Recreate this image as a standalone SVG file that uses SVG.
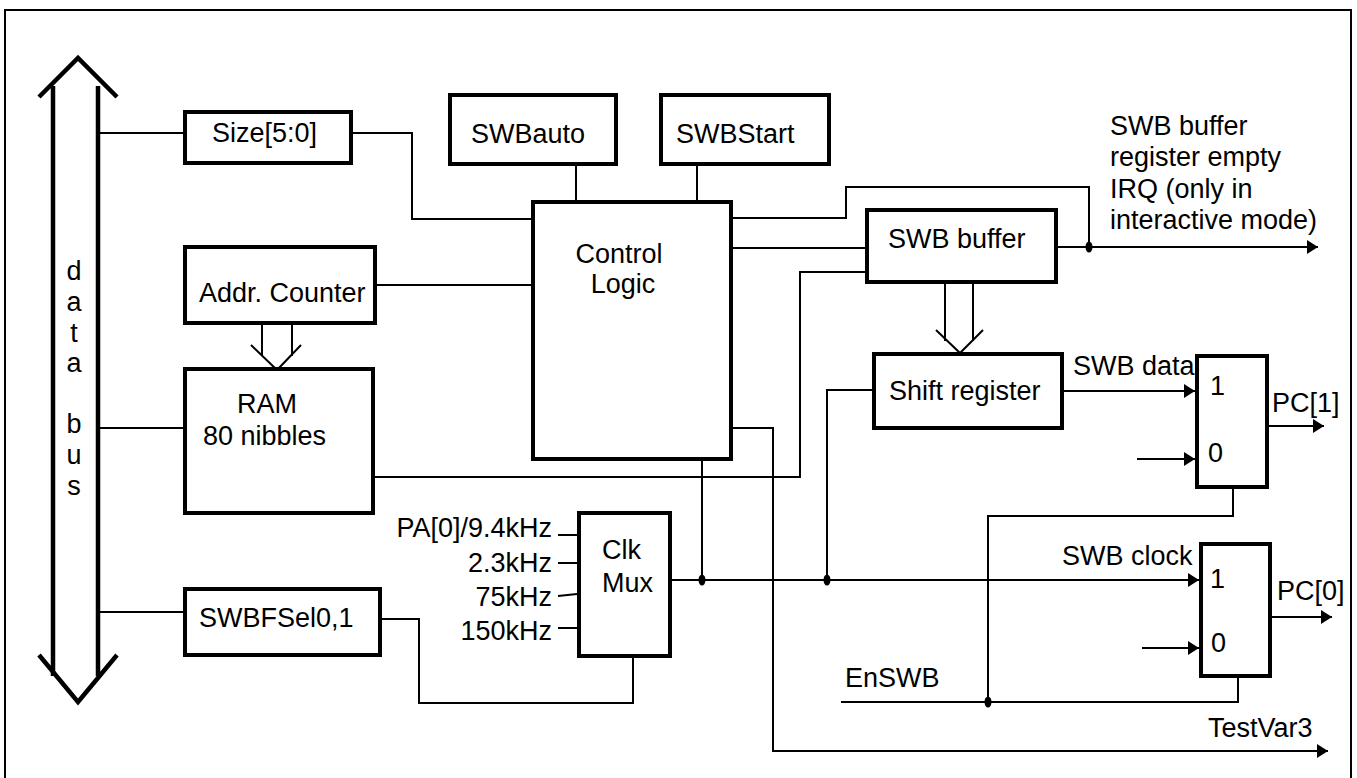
<svg xmlns="http://www.w3.org/2000/svg" width="1357" height="778" viewBox="0 0 1357 778">
<style>
.box{fill:#fff;stroke:#000;stroke-width:4}
.w{fill:none;stroke:#000;stroke-width:2}
.bus{fill:none;stroke:#000;stroke-width:4.5}
text{font-family:"Liberation Sans",Arial,sans-serif;font-size:27px;fill:#000}
.m{text-anchor:middle}
.e{text-anchor:end}
</style>
<defs>
<marker id="arr" viewBox="0 0 11 14" refX="11" refY="7" markerWidth="11" markerHeight="14" markerUnits="userSpaceOnUse" orient="auto">
<path d="M0,0 L11,7 L0,14 z" fill="#000"/>
</marker>
</defs>
<rect width="1357" height="778" fill="#fff"/>
<rect x="5" y="10" width="1346" height="790" fill="none" stroke="#000" stroke-width="2"/>

<g id="databus">
<path class="bus" d="M53 86 V676 M98 86 V676"/>
<path class="bus" d="M39 97 L78 58 L117 97"/>
<path class="bus" d="M39 655 L78 702 L117 655"/>
<text class="m" x="74" y="280">d</text>
<text class="m" x="74" y="311">a</text>
<text class="m" x="74" y="342">t</text>
<text class="m" x="74" y="372">a</text>
<text class="m" x="74" y="433">b</text>
<text class="m" x="74" y="464">u</text>
<text class="m" x="74" y="495">s</text>
</g>

<g id="connectors">
<path class="w" d="M98 133 H183"/>
<path class="w" d="M353 133 H412 V219 H531"/>
<path class="w" d="M377 285 H531"/>
<path class="w" d="M98 428 H183"/>
<path class="w" d="M375 477 H800 V272 H865"/>
<path class="w" d="M98 612 H183"/>
<path class="w" d="M382 619 H419 V703 H633 V658"/>
<path class="w" d="M576 166 V200"/>
<path class="w" d="M697 166 V200"/>
<path class="w" d="M733 218 H846 V187 H1089 V247"/>
<path class="w" d="M733 248 H865"/>
<path class="w" d="M1058 247 H1318" marker-end="url(#arr)"/>
<path class="w" d="M558 535 H577 M558 563 H577 M558 596 L577 594 M558 628 H577"/>
<path class="w" d="M672 580 H1199" marker-end="url(#arr)"/>
<path class="w" d="M702 461 V580"/>
<path class="w" d="M827 580 V390 H872"/>
<path class="w" d="M1064 391 H1195" marker-end="url(#arr)"/>
<path class="w" d="M1137 459 H1195" marker-end="url(#arr)"/>
<path class="w" d="M1269 426 H1324" marker-end="url(#arr)"/>
<path class="w" d="M1233 489 V516 H988 V702"/>
<path class="w" d="M841 702 H1238 V678"/>
<path class="w" d="M1142 648 H1199" marker-end="url(#arr)"/>
<path class="w" d="M1272 617 H1332" marker-end="url(#arr)"/>
<path class="w" d="M733 428 H773 V751 H1328" marker-end="url(#arr)"/>
<path class="w" d="M262 325 V356 M292 325 V356 M251 345 L277 370 L301 345"/>
<path class="w" d="M945 284 V341 M973 284 V341 M936 330 L960 353 L983 330"/>
<ellipse cx="1089" cy="247" rx="3.5" ry="5.5"/>
<ellipse cx="702" cy="580" rx="3.5" ry="5.5"/>
<ellipse cx="827" cy="580" rx="3.5" ry="5.5"/>
<ellipse cx="988" cy="702" rx="3.5" ry="5.5"/>
</g>

<g id="size"><rect class="box" x="185" y="112" width="166" height="51"/><text x="212" y="142">Size[5:0]</text></g>
<g id="swbauto"><rect class="box" x="450" y="95" width="166" height="69"/><text x="471" y="143">SWBauto</text></g>
<g id="swbstart"><rect class="box" x="661" y="95" width="168" height="69"/><text x="676" y="143">SWBStart</text></g>
<g id="addr"><rect class="box" x="185" y="247" width="190" height="76"/><text x="199" y="302">Addr. Counter</text></g>
<g id="ram"><rect class="box" x="185" y="369" width="188" height="144"/><text x="237" y="413">RAM</text><text x="203" y="445">80 nibbles</text></g>
<g id="swbfsel"><rect class="box" x="185" y="589" width="195" height="66"/><text x="199" y="627">SWBFSel0,1</text></g>
<g id="control"><rect class="box" x="533" y="202" width="198" height="257"/><text class="m" x="619" y="263">Control</text><text class="m" x="623" y="293">Logic</text></g>
<g id="clkmux"><rect class="box" x="579" y="513" width="91" height="143"/><text x="602" y="559">Clk</text><text x="602" y="592">Mux</text>
<text class="e" x="552" y="537">PA[0]/9.4kHz</text><text class="e" x="552" y="572">2.3kHz</text><text class="e" x="552" y="606">75kHz</text><text class="e" x="552" y="640">150kHz</text></g>
<g id="swbbuffer"><rect class="box" x="867" y="210" width="189" height="72"/><text x="888" y="248">SWB buffer</text></g>
<g id="shift"><rect class="box" x="874" y="354" width="188" height="74"/><text x="889" y="400">Shift register</text></g>
<g id="mux1"><rect class="box" x="1197" y="356" width="70" height="131"/><text x="1210" y="395">1</text><text x="1208" y="462">0</text></g>
<g id="mux2"><rect class="box" x="1201" y="544" width="69" height="132"/><text x="1210" y="588">1</text><text x="1211" y="652">0</text></g>

<g id="labels">
<text x="1110" y="135">SWB buffer</text>
<text x="1110" y="166">register empty</text>
<text x="1110" y="198">IRQ (only in</text>
<text x="1110" y="229">interactive mode)</text>
<text x="1073" y="375">SWB data</text>
<text x="1272" y="412">PC[1]</text>
<text x="1062" y="565">SWB clock</text>
<text x="1277" y="600">PC[0]</text>
<text x="845" y="687">EnSWB</text>
<text x="1208" y="737">TestVar3</text>
</g>
</svg>
